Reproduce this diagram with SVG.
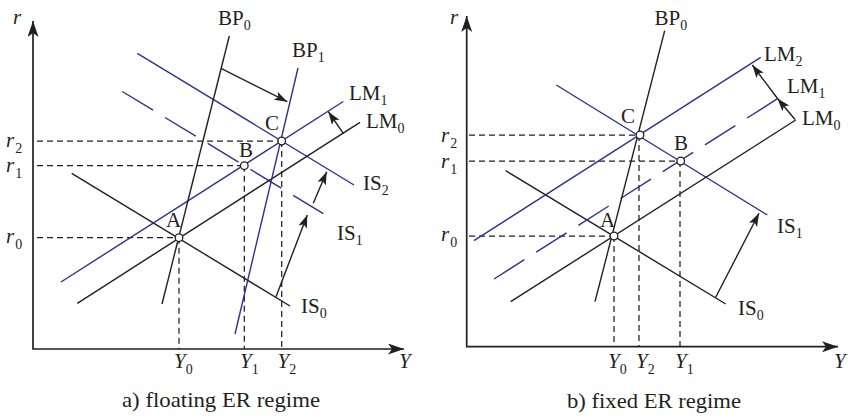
<svg xmlns="http://www.w3.org/2000/svg" width="848" height="418" viewBox="0 0 848 418">
<style>
.ax{stroke:#231f20;stroke-width:1.7;fill:none}
.k{stroke:#231f20;stroke-width:1.4;fill:none}
.b{stroke:#2e3192;stroke-width:1.4;fill:none}
.bd{stroke:#2e3192;stroke-width:1.4;fill:none;stroke-dasharray:36 14}
.d{stroke:#231f20;stroke-width:1.25;fill:none;stroke-dasharray:6 4}
.pt{fill:#fff;stroke:#231f20;stroke-width:1.3}
.ar{stroke:#231f20;stroke-width:1.4;fill:none;marker-end:url(#ah)}
text{font-family:"Liberation Serif","Times New Roman",serif;font-size:21px;fill:#231f20}
.i{font-style:italic}
.s{font-size:14px;font-style:normal}
</style>
<defs>
<marker id="ah" markerUnits="userSpaceOnUse" markerWidth="14" markerHeight="10" refX="13" refY="4.5" orient="auto">
<path d="M0,0 L13,4.5 L0,9 L3,4.5 z" fill="#231f20"/>
</marker>
<marker id="axh" markerUnits="userSpaceOnUse" markerWidth="18" markerHeight="12" refX="16" refY="5.5" orient="auto-start-reverse">
<path d="M0,0 L16,5.5 L0,11 L4,5.5 z" fill="#231f20"/>
</marker>
</defs>

<!-- Panel a -->
<g id="axes-a">
<path class="ax" d="M33,21 V349 H404" marker-start="url(#axh)" marker-end="url(#axh)"/>
<text class="i" x="13" y="24">r</text>
<text class="i" x="399" y="368">Y</text>
</g>
<g id="guides-a">
<line class="d" x1="37" y1="141" x2="281.7" y2="141"/>
<line class="d" x1="37" y1="165.7" x2="244.3" y2="165.7"/>
<line class="d" x1="37" y1="237.7" x2="179" y2="237.7"/>
<line class="d" x1="179" y1="237.7" x2="179" y2="349"/>
<line class="d" x1="244.3" y1="165.7" x2="244.3" y2="349"/>
<line class="d" x1="281.7" y1="141" x2="281.7" y2="349"/>
<text class="i" x="6" y="146.5">r<tspan class="s" dx="1" dy="6">2</tspan></text>
<text class="i" x="6" y="171.5">r<tspan class="s" dx="1" dy="6">1</tspan></text>
<text class="i" x="6" y="243">r<tspan class="s" dx="1" dy="6">0</tspan></text>
<text class="i" x="174" y="368">Y<tspan class="s" dy="6">0</tspan></text>
<text class="i" x="240" y="368">Y<tspan class="s" dy="6">1</tspan></text>
<text class="i" x="277.5" y="368">Y<tspan class="s" dy="6">2</tspan></text>
</g>
<g id="IS0-a">
<line class="k" x1="71.7" y1="173.3" x2="290" y2="306"/>
<text x="301" y="313">IS<tspan class="s" dy="5">0</tspan></text>
</g>
<g id="IS1-a">
<line class="bd" x1="122.3" y1="91.5" x2="323.3" y2="213.7"/>
<text x="337" y="240">IS<tspan class="s" dy="5">1</tspan></text>
</g>
<g id="IS2-a">
<line class="b" x1="137.3" y1="53.3" x2="354" y2="185"/>
<text x="363" y="190">IS<tspan class="s" dy="5">2</tspan></text>
</g>
<g id="LM0-a">
<line class="k" x1="77.3" y1="303.3" x2="360" y2="122.3"/>
<text x="366" y="128">LM<tspan class="s" dy="5">0</tspan></text>
</g>
<g id="LM1-a">
<line class="b" x1="61" y1="282" x2="343.3" y2="101.5"/>
<text x="349" y="100">LM<tspan class="s" dy="5">1</tspan></text>
</g>
<g id="BP0-a">
<line class="k" x1="162" y1="304" x2="229.3" y2="36"/>
<text x="218" y="25">BP<tspan class="s" dy="5">0</tspan></text>
</g>
<g id="BP1-a">
<line class="b" x1="235" y1="334" x2="298" y2="68"/>
<text x="292" y="57">BP<tspan class="s" dy="5">1</tspan></text>
</g>
<g id="connectors-a">
<line class="ar" x1="221" y1="68.3" x2="287.3" y2="101.7"/>
<line class="ar" x1="343.3" y1="133.3" x2="328.3" y2="111.7"/>
<line class="ar" x1="313.3" y1="203.3" x2="326.7" y2="171.7"/>
<line class="ar" x1="276" y1="296.7" x2="307.3" y2="215"/>
</g>
<g id="A-a">
<circle class="pt" cx="179" cy="237.7" r="3.8"/>
<text x="166" y="227">A</text>
</g>
<g id="B-a">
<circle class="pt" cx="244.3" cy="165.7" r="3.8"/>
<text x="239" y="157">B</text>
</g>
<g id="C-a">
<circle class="pt" cx="281.7" cy="141" r="3.8"/>
<text x="265" y="130">C</text>
</g>
<text x="122" y="407" font-size="20" textLength="198" lengthAdjust="spacingAndGlyphs">a) floating ER regime</text>

<!-- Panel b -->
<g id="axes-b">
<path class="ax" d="M466.7,16 V346.7 H838" marker-start="url(#axh)" marker-end="url(#axh)"/>
<text class="i" x="450" y="24">r</text>
<text class="i" x="834" y="368">Y</text>
</g>
<g id="guides-b">
<line class="d" x1="469" y1="135" x2="640" y2="135"/>
<line class="d" x1="469" y1="161" x2="680.7" y2="161"/>
<line class="d" x1="469" y1="236" x2="614" y2="236"/>
<line class="d" x1="614" y1="236" x2="614" y2="346.7"/>
<line class="d" x1="639" y1="135" x2="639" y2="346.7"/>
<line class="d" x1="680" y1="161" x2="680" y2="346.7"/>
<text class="i" x="441" y="142">r<tspan class="s" dx="1" dy="6">2</tspan></text>
<text class="i" x="441" y="168">r<tspan class="s" dx="1" dy="6">1</tspan></text>
<text class="i" x="441" y="241">r<tspan class="s" dx="1" dy="6">0</tspan></text>
<text class="i" x="608" y="368">Y<tspan class="s" dy="6">0</tspan></text>
<text class="i" x="636" y="368">Y<tspan class="s" dy="6">2</tspan></text>
<text class="i" x="675" y="368">Y<tspan class="s" dy="6">1</tspan></text>
</g>
<g id="IS0-b">
<line class="k" x1="505.7" y1="170.7" x2="725.7" y2="304"/>
<text x="738" y="315">IS<tspan class="s" dy="5">0</tspan></text>
</g>
<g id="IS1-b">
<line class="b" x1="556.3" y1="85" x2="767.3" y2="215"/>
<text x="777" y="233">IS<tspan class="s" dy="5">1</tspan></text>
</g>
<g id="LM0-b">
<line class="k" x1="510.7" y1="301.7" x2="795.7" y2="120"/>
<text x="802" y="125">LM<tspan class="s" dy="5">0</tspan></text>
</g>
<g id="LM1-b">
<line class="bd" x1="494" y1="279" x2="780.7" y2="96.7"/>
<text x="787" y="93">LM<tspan class="s" dy="5">1</tspan></text>
</g>
<g id="LM2-b">
<line class="b" x1="474" y1="240.7" x2="760.7" y2="57.3"/>
<text x="764" y="61">LM<tspan class="s" dy="5">2</tspan></text>
</g>
<g id="BP0-b">
<line class="k" x1="595" y1="301.7" x2="664.7" y2="30.7"/>
<text x="654.5" y="25">BP<tspan class="s" dy="5">0</tspan></text>
</g>
<g id="connectors-b">
<line class="ar" x1="795" y1="119.5" x2="777.5" y2="98.5"/>
<line class="ar" x1="777.5" y1="98.5" x2="752.3" y2="65"/>
<line class="ar" x1="715.7" y1="297.3" x2="759" y2="213.3"/>
</g>
<g id="A-b">
<circle class="pt" cx="614" cy="236" r="3.8"/>
<text x="600" y="227">A</text>
</g>
<g id="B-b">
<circle class="pt" cx="680.7" cy="161" r="3.8"/>
<text x="674" y="150">B</text>
</g>
<g id="C-b">
<circle class="pt" cx="640" cy="135" r="3.8"/>
<text x="621" y="123">C</text>
</g>
<text x="567" y="408" font-size="20" textLength="174" lengthAdjust="spacingAndGlyphs">b) fixed ER regime</text>
</svg>
